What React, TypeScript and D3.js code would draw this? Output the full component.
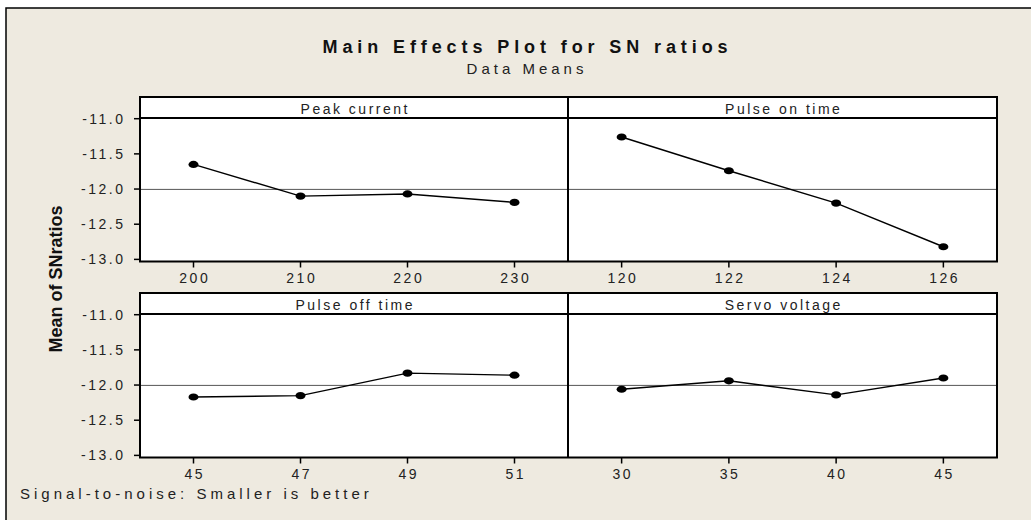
import React from 'react';
import * as d3 from 'd3';

// factor names, in panel order (row by row)
const factors = ['Peak current', 'Pulse on time', 'Pulse off time', 'Servo voltage'];

// levels of each factor
const peakLevels = ['200', '210', '220', '230'];
const onLevels = ['120', '122', '124', '126'];
const offLevels = ['45', '47', '49', '51'];
const servoLevels = ['30', '35', '40', '45'];

// mean S/N ratio at each level
const peakMeans = [-11.65, -12.1, -12.07, -12.19];
const onMeans = [-11.26, -11.74, -12.2, -12.82];
const offMeans = [-12.17, -12.15, -11.83, -11.86];
const servoMeans = [-12.06, -11.94, -12.14, -11.9];

const yTicks = [-11.0, -11.5, -12.0, -12.5, -13.0];

const W = 1031;
const H = 520;
const bg = '#eeeae0';
const font = '"Liberation Sans", Arial, sans-serif';

// layout
const rowTops = [97, 293];
const panelH = 164.5;
const stripH = 21;
const frameL = 140;
const frameR = 997;
const divX = 568;
const colRanges: [number, number][] = [[frameL, divX], [divX, frameR]];
const sp = 2.5; // letter spacing of the small labels

const App = () => {
  const levels = [peakLevels, onLevels, offLevels, servoLevels];
  const means = [peakMeans, onMeans, offMeans, servoMeans];
  const grand = d3.mean(means.flat()) as number;

  const panels = factors.map((name, i) => {
    const row = Math.floor(i / 2);
    const col = i % 2;
    const top = rowTops[row];
    const x = d3.scalePoint<string>().domain(levels[i]).range(colRanges[col]).padding(0.5);
    const y = d3.scaleLinear().domain([-13.03, -10.99]).range([top + panelH, top + stripH]);
    const pts = levels[i].map((l, j) => [x(l) as number, y(means[i][j])] as [number, number]);
    const line = d3.line();
    const cx = (colRanges[col][0] + colRanges[col][1]) / 2;
    return (
      <g key={name}>
        {/* reference line at grand mean */}
        <line x1={colRanges[col][0]} x2={colRanges[col][1]} y1={y(grand)} y2={y(grand)}
          stroke="#555" strokeWidth={1} />
        <path d={line(pts) || ''} fill="none" stroke="#000" strokeWidth={1.4} />
        {pts.map((p, j) => (
          <ellipse key={j} cx={p[0]} cy={p[1]} rx={5} ry={3.6} fill="#000" />
        ))}
        <text x={cx + sp / 2} y={top + 16.5} textAnchor="middle" fontSize={14} letterSpacing={sp}
          fill="#222" fontFamily={font}>{name}</text>
        {/* x ticks */}
        {levels[i].map(l => (
          <g key={l}>
            <line x1={x(l)} x2={x(l)} y1={top + panelH} y2={top + panelH + 6} stroke="#000" strokeWidth={1.5} />
            <text x={(x(l) as number) + sp / 2} y={top + panelH + 21.5} textAnchor="middle" fontSize={14}
              letterSpacing={sp} fill="#222" fontFamily={font}>{l}</text>
          </g>
        ))}
        {/* y axis on left column */}
        {col === 0 && yTicks.map(t => (
          <g key={t}>
            <line x1={frameL - 6} x2={frameL} y1={y(t)} y2={y(t)} stroke="#000" strokeWidth={1.5} />
            <text x={123 + sp} y={y(t) + 5} textAnchor="end" fontSize={14} letterSpacing={sp}
              fill="#222" fontFamily={font}>{t.toFixed(1)}</text>
          </g>
        ))}
      </g>
    );
  });

  return (
    <svg width={W} height={H} style={{ position: 'absolute', left: 0, top: 0, background: '#fff' }}>
      <rect x={6} y={8} width={W + 20} height={H + 20} fill={bg} stroke="#000" strokeWidth={1.5} />
      {rowTops.map(top => (
        <rect key={top} x={frameL} y={top} width={frameR - frameL} height={panelH} fill="#fff" />
      ))}
      {panels}
      {rowTops.map(top => (
        <g key={'f' + top}>
          <rect x={frameL} y={top} width={frameR - frameL} height={panelH} fill="none" stroke="#000" strokeWidth={2} />
          <line x1={frameL} x2={frameR} y1={top + stripH} y2={top + stripH} stroke="#000" strokeWidth={2} />
          <line x1={divX} x2={divX} y1={top} y2={top + panelH} stroke="#000" strokeWidth={2} />
        </g>
      ))}
      <text x={525 + 2.5} y={53} textAnchor="middle" fontSize={18} fontWeight="bold" letterSpacing={4.9}
        fill="#111" fontFamily={font}>Main Effects Plot for SN ratios</text>
      <text x={525 + 2} y={74} textAnchor="middle" fontSize={15} letterSpacing={4}
        fill="#222" fontFamily={font}>Data Means</text>
      <text transform="translate(61.5,279) rotate(-90)" textAnchor="middle" fontSize={18} fontWeight="bold"
        fill="#111" fontFamily={font}>Mean of SNratios</text>
      <text x={20} y={499} fontSize={15} letterSpacing={4} fill="#222" fontFamily={font}>
        Signal-to-noise: Smaller is better
      </text>
    </svg>
  );
};

export default App;
